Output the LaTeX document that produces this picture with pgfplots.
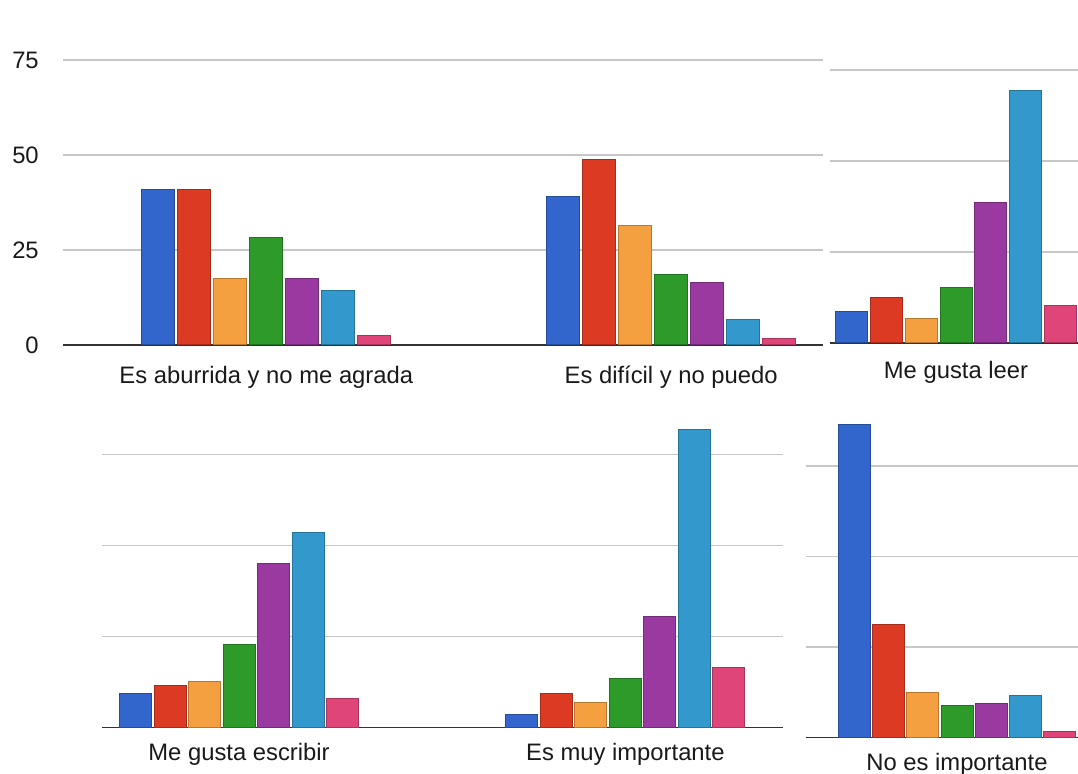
\documentclass[border=0pt]{standalone}
\usepackage{fontspec}
\setmainfont{Liberation Sans}
\usepackage{pgfplots}
\pgfplotsset{compat=1.18}

\definecolor{gblue}{HTML}{3366CC}
\definecolor{gred}{HTML}{DC3A22}
\definecolor{gorange}{HTML}{F5A040}
\definecolor{ggreen}{HTML}{2E9A2A}
\definecolor{gpurple}{HTML}{9A3AA0}
\definecolor{gteal}{HTML}{3399CC}
\definecolor{gpink}{HTML}{E0457A}

\pgfplotsset{
  panel/.style={
    scale only axis,
    anchor=south west,
    axis x line*=bottom,
    axis y line*=left,
    y axis line style={draw=none},
    ymin=0,
    ytick={0,25,50,75},
    yticklabels={},
    ymajorgrids,
    grid style={line width=0.7pt, black!22},
    x axis line style={line width=0.8pt, black!80},
    major tick length=0pt,
    every tick label/.append style={font=\fontsize{11.9}{14}\selectfont, black!90},
    /pgf/number format/assume math mode=true,
  },
  bb/.style={fill=#1, draw=#1!75!black, line width=0.5pt},
}

\begin{document}
\begin{tikzpicture}
\path[use as bounding box] (0,0) rectangle (539pt,387pt);

% top: two groups with y labels
\begin{axis}[panel, at={(31.5pt,214.5pt)}, width=380pt, height=142.5pt,
    xmin=63, xmax=823, ymax=75,
    ybar=1.5pt, bar width=16.5pt,
    yticklabels={0,25,50,75},
    yticklabel style={anchor=east, xshift=-8.6pt},
    xtick={266.3,671.2},
    xticklabels={Es aburrida y no me agrada, Es difícil y no puedo},
    xticklabel style={anchor=base, yshift=-19.5pt}]
  \addplot[bb=gblue]   coordinates {(266.3,41) (671.2,39)};
  \addplot[bb=gred]    coordinates {(266.3,41) (671.2,48.7)};
  \addplot[bb=gorange] coordinates {(266.3,17.5) (671.2,31.4)};
  \addplot[bb=ggreen]  coordinates {(266.3,28.3) (671.2,18.6)};
  \addplot[bb=gpurple] coordinates {(266.3,17.5) (671.2,16.5)};
  \addplot[bb=gteal]   coordinates {(266.3,14.3) (671.2,6.8)};
  \addplot[bb=gpink]   coordinates {(266.3,2.5) (671.2,1.7)};
\end{axis}

% top right
\begin{axis}[panel, at={(415pt,215.5pt)}, width=124pt, height=136.5pt,
    xmin=830, xmax=1078, ymax=75,
    ybar=1.35pt, bar width=16pt,
    xtick={956}, xticklabels={Me gusta leer},
    xticklabel style={anchor=base, yshift=-17.7pt}]
  \addplot[bb=gblue]   coordinates {(956,8.6)};
  \addplot[bb=gred]    coordinates {(956,12.4)};
  \addplot[bb=gorange] coordinates {(956,6.6)};
  \addplot[bb=ggreen]  coordinates {(956,15.3)};
  \addplot[bb=gpurple] coordinates {(956,38.6)};
  \addplot[bb=gteal]   coordinates {(956,69.5)};
  \addplot[bb=gpink]   coordinates {(956,10.2)};
\end{axis}

% bottom left: two groups
\begin{axis}[panel, at={(51pt,23.25pt)}, width=340.5pt, height=154.7pt,
    xmin=102, xmax=783, ymax=85,
    ybar=1.25pt, bar width=16pt,
    xtick={239,625.4},
    xticklabels={Me gusta escribir, Es muy importante},
    xticklabel style={anchor=base, yshift=-16.5pt}]
  \addplot[bb=gblue]   coordinates {(239,9.4) (625.4,3.7)};
  \addplot[bb=gred]    coordinates {(239,11.5) (625.4,9.3)};
  \addplot[bb=gorange] coordinates {(239,12.5) (625.4,6.8)};
  \addplot[bb=ggreen]  coordinates {(239,22.7) (625.4,13.5)};
  \addplot[bb=gpurple] coordinates {(239,45) (625.4,30.4)};
  \addplot[bb=gteal]   coordinates {(239,53.6) (625.4,81.9)};
  \addplot[bb=gpink]   coordinates {(239,7.9) (625.4,16.5)};
\end{axis}

% bottom right
\begin{axis}[panel, at={(403pt,18.15pt)}, width=136pt, height=162.9pt,
    xmin=806, xmax=1078, ymax=90,
    ybar=1.1pt, bar width=16pt,
    xtick={957}, xticklabels={No es importante},
    xticklabel style={anchor=base, yshift=-16.5pt}]
  \addplot[bb=gblue]   coordinates {(957,86.4)};
  \addplot[bb=gred]    coordinates {(957,31.4)};
  \addplot[bb=gorange] coordinates {(957,12.4)};
  \addplot[bb=ggreen]  coordinates {(957,9.0)};
  \addplot[bb=gpurple] coordinates {(957,9.5)};
  \addplot[bb=gteal]   coordinates {(957,11.6)};
  \addplot[bb=gpink]   coordinates {(957,1.8)};
\end{axis}
\end{tikzpicture}
\end{document}
